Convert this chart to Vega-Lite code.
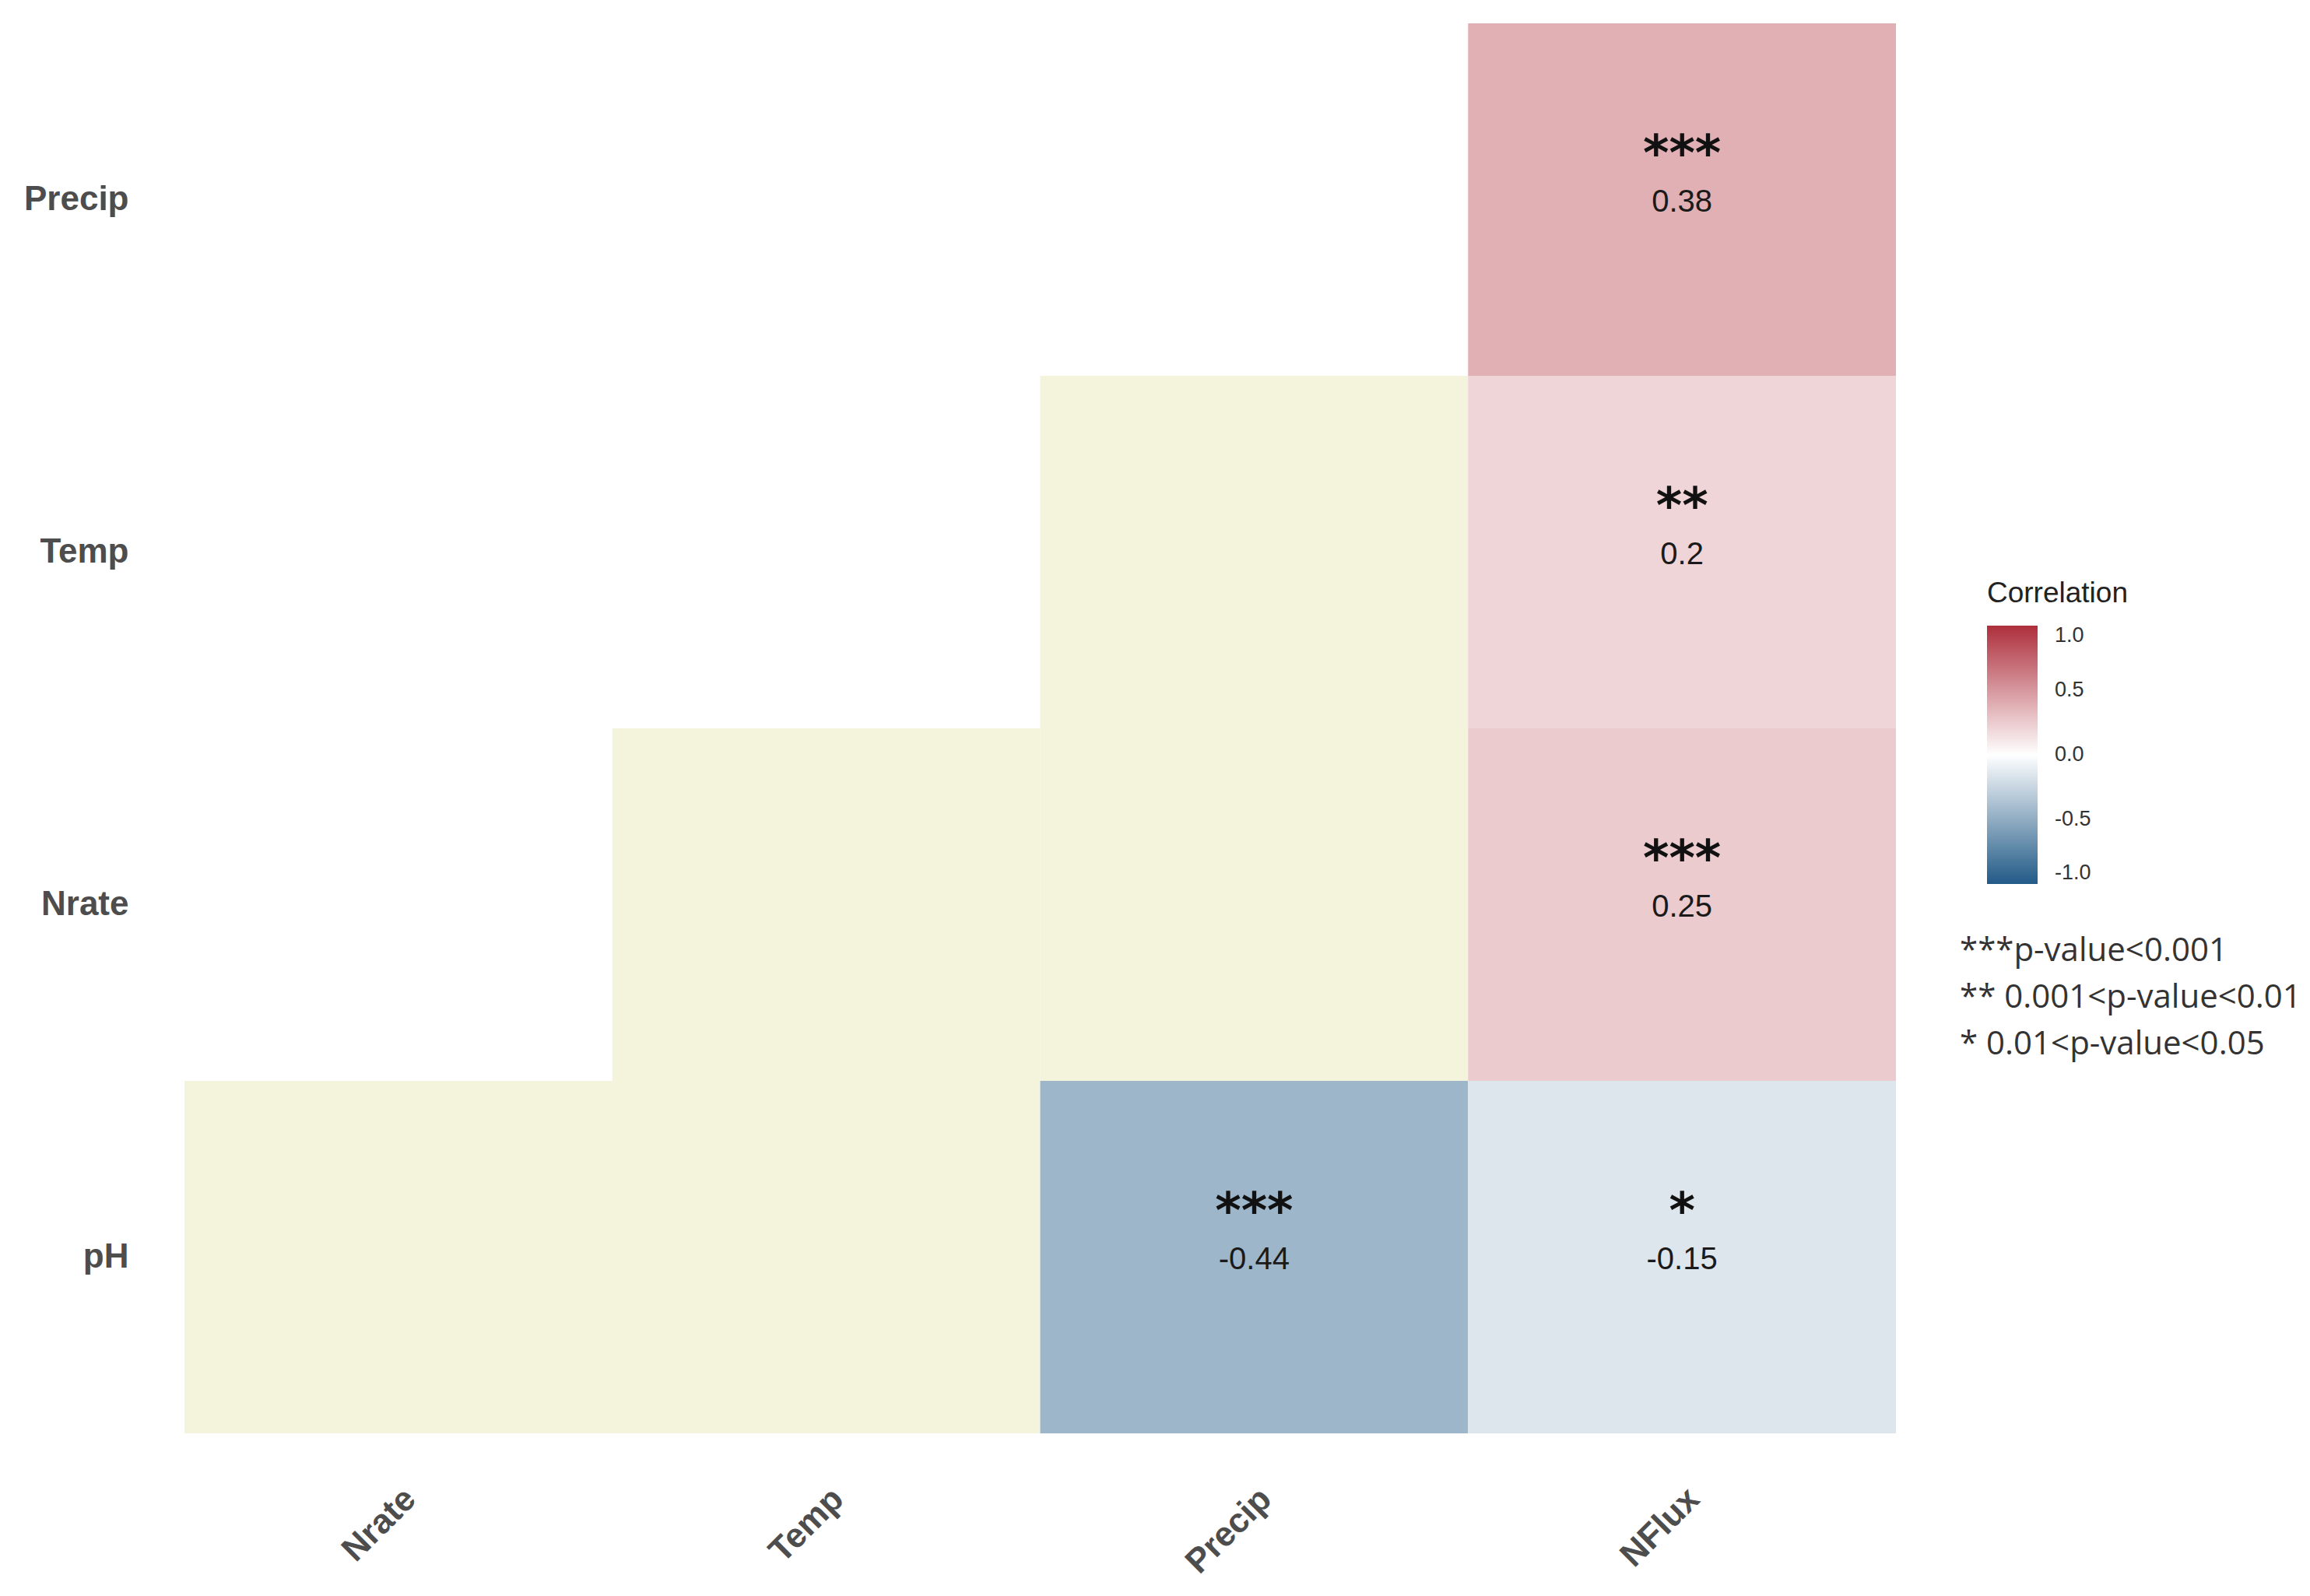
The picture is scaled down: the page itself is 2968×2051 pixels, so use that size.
{
  "$schema": "https://vega.github.io/schema/vega-lite/v6.json",
  "width": 2199,
  "height": 1812,
  "autosize": {"type": "none"},
  "padding": {"left": 237, "top": 30, "right": 532, "bottom": 209},
  "background": "white",
  "config": {"view": {"stroke": null}, "font": "Liberation Sans"},
  "data": {
    "values": [
      {"col": "Nrate", "row": "pH", "r": null, "stars": "", "sig": false, "note": null},
      {"col": "Temp", "row": "pH", "r": null, "stars": "", "sig": false, "note": null},
      {"col": "Precip", "row": "pH", "r": -0.44, "stars": "***", "sig": true, "note": "***p-value<0.001"},
      {"col": "NFlux", "row": "pH", "r": -0.15, "stars": "*", "sig": true, "note": "* 0.01<p-value<0.05"},
      {"col": "Temp", "row": "Nrate", "r": null, "stars": "", "sig": false, "note": null},
      {"col": "Precip", "row": "Nrate", "r": null, "stars": "", "sig": false, "note": null},
      {"col": "NFlux", "row": "Nrate", "r": 0.25, "stars": "***", "sig": true, "note": "***p-value<0.001"},
      {"col": "Precip", "row": "Temp", "r": null, "stars": "", "sig": false, "note": null},
      {"col": "NFlux", "row": "Temp", "r": 0.2, "stars": "**", "sig": true, "note": "** 0.001<p-value<0.01"},
      {"col": "NFlux", "row": "Precip", "r": 0.38, "stars": "***", "sig": true, "note": "***p-value<0.001"}
    ]
  },
  "encoding": {
    "x": {
      "field": "col", "type": "nominal",
      "sort": ["Nrate", "Temp", "Precip", "NFlux"],
      "scale": {"paddingInner": 0, "paddingOuter": 0},
      "axis": {"title": null, "labelAngle": -45, "labelFontSize": 44, "labelFontWeight": "bold", "labelColor": "#4D4D4D", "ticks": false, "domain": false, "grid": false, "labelPadding": 62}
    },
    "y": {
      "field": "row", "type": "nominal",
      "sort": ["Precip", "Temp", "Nrate", "pH"],
      "scale": {"paddingInner": 0, "paddingOuter": 0},
      "axis": {"title": null, "labelFontSize": 44, "labelFontWeight": "bold", "labelColor": "#4D4D4D", "ticks": false, "domain": false, "grid": false, "labelPadding": 72}
    }
  },
  "layer": [
    {
      "transform": [{"filter": "!datum.sig"}],
      "mark": {"type": "rect", "color": "#F4F3DC"}
    },
    {
      "transform": [{"filter": "datum.sig"}],
      "mark": {"type": "rect"},
      "encoding": {
        "color": {
          "field": "r", "type": "quantitative",
          "scale": {"domain": [-1, 0, 1], "range": ["#225A87", "#FFFFFF", "#AE2F3C"], "interpolate": "rgb"},
          "legend": {
            "title": "Correlation", "orient": "none", "legendX": 2316, "legendY": 715,
            "direction": "vertical", "gradientLength": 332, "gradientThickness": 65,
            "gradientStrokeWidth": 0, "padding": 0, "titleLimit": 0,
            "titleFontSize": 37, "titleFontWeight": "normal", "titleColor": "#222222", "titlePadding": 22,
            "labelFontSize": 27, "labelColor": "#333333", "labelOffset": 22,
            "values": [-1, -0.5, 0, 0.5, 1],
            "labelExpr": "replace(format(datum.value, '.1f'), '\u2212', '-')"
          }
        }
      }
    },
    {
      "transform": [{"filter": "datum.sig"}],
      "mark": {"type": "point", "opacity": 0},
      "encoding": {
        "shape": {
          "field": "note", "type": "nominal",
          "scale": {"domain": ["***p-value<0.001", "** 0.001<p-value<0.01", "* 0.01<p-value<0.05"]},
          "legend": {
            "title": null, "orient": "none", "legendX": 2239, "legendY": 1171,
            "padding": 0, "symbolSize": 0, "symbolOpacity": 0, "symbolStrokeWidth": 0,
            "labelFontSize": 42, "labelFont": "Open Sans", "labelColor": "#333333",
            "labelLimit": 0, "labelOffset": 0, "rowPadding": 18
          }
        }
      }
    },
    {
      "transform": [{"filter": "datum.sig"}],
      "mark": {"type": "text", "fontSize": 40, "color": "#1A1A1A", "baseline": "middle", "align": "center", "dy": 3, "font": "Liberation Sans"},
      "encoding": {"text": {"field": "r", "type": "nominal"}}
    },
    {
      "transform": [{"filter": "datum.sig"}],
      "mark": {"type": "text", "fontSize": 64, "fontWeight": "bold", "color": "#111111", "baseline": "alphabetic", "align": "center", "dy": -38, "font": "DejaVu Sans"},
      "encoding": {"text": {"field": "stars", "type": "nominal"}}
    }
  ]
}
